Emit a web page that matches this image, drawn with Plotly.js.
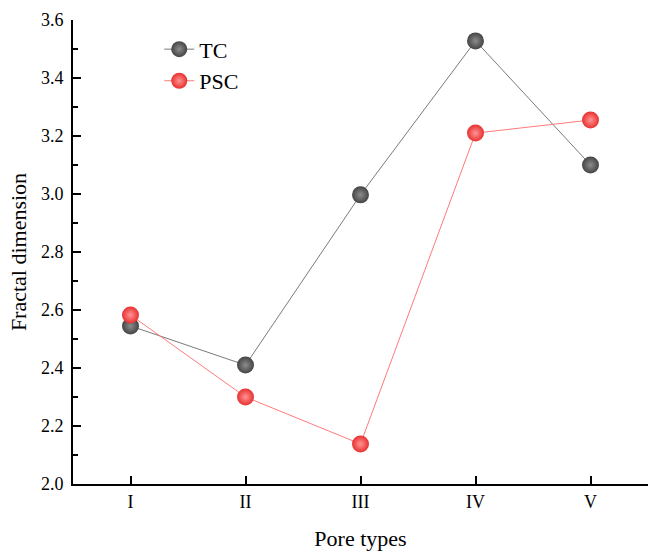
<!DOCTYPE html>
<html>
<head>
<meta charset="utf-8">
<script src="https://cdn.plot.ly/plotly-3.0.1.min.js"></script>
<style>html,body{margin:0;padding:0;background:#fff;}#chart{width:648px;height:552px;}</style>
</head>
<body>
<div id="chart"></div>
<script>
// Fractal dimension by pore type for two coal samples
const poreTypes = ['I', 'II', 'III', 'IV', 'V'];
const tcValues = [2.545, 2.41, 2.997, 3.528, 3.10];
const pscValues = [2.583, 2.30, 2.138, 3.21, 3.255];

const serif = 'Liberation Serif';

const traces = [
  {
    x: poreTypes, y: tcValues, name: 'TC', type: 'scatter', mode: 'lines+markers',
    line: {color: '#7a7a7a', width: 1},
    marker: {size: 17, color: '#444444', gradient: {type: 'radial', color: '#8c8c8c'}}
  },
  {
    x: poreTypes, y: pscValues, name: 'PSC', type: 'scatter', mode: 'lines+markers',
    line: {color: '#ff7a7a', width: 1},
    marker: {size: 17, color: '#e83030', gradient: {type: 'radial', color: '#ff9494'}}
  }
];

const layout = {
  width: 648, height: 552,
  margin: {l: 73, r: 0, t: 20, b: 68},
  paper_bgcolor: '#fff', plot_bgcolor: '#fff',
  font: {family: serif, color: '#000', size: 18, weight: 'normal'},
  showlegend: true,
  legend: {x: 0.15, y: 0.982, xanchor: 'left', yanchor: 'top', bgcolor: 'rgba(0,0,0,0)',
           font: {family: serif, size: 22, weight: 'normal'}, tracegroupgap: 0},
  xaxis: {
    type: 'category', range: [-0.5, 4.5],
    showline: true, linecolor: '#000', linewidth: 2, mirror: false,
    ticks: 'inside', ticklen: 8, tickwidth: 2, tickcolor: '#000',
    showgrid: false, zeroline: false,
    tickfont: {family: serif, size: 18, weight: 'normal'},
    title: {text: 'Pore types', font: {family: serif, size: 22}, standoff: 20}
  },
  yaxis: {
    range: [2.0, 3.6], dtick: 0.2, tick0: 2.0, tickformat: '.1f',
    showline: true, linecolor: '#000', linewidth: 2, mirror: false,
    ticks: 'inside', ticklen: 8, tickwidth: 2, tickcolor: '#000',
    ticklabelstandoff: 4,
    minor: {dtick: 0.1, ticks: 'inside', ticklen: 5, tickwidth: 2, tickcolor: '#000', showgrid: false},
    showgrid: false, zeroline: false,
    tickfont: {family: serif, size: 18, weight: 'normal'},
    title: {text: 'Fractal dimension', font: {family: serif, size: 22}, standoff: 8}
  }
};

Plotly.newPlot('chart', traces, layout, {displayModeBar: false, staticPlot: true});
</script>
</body>
</html>
